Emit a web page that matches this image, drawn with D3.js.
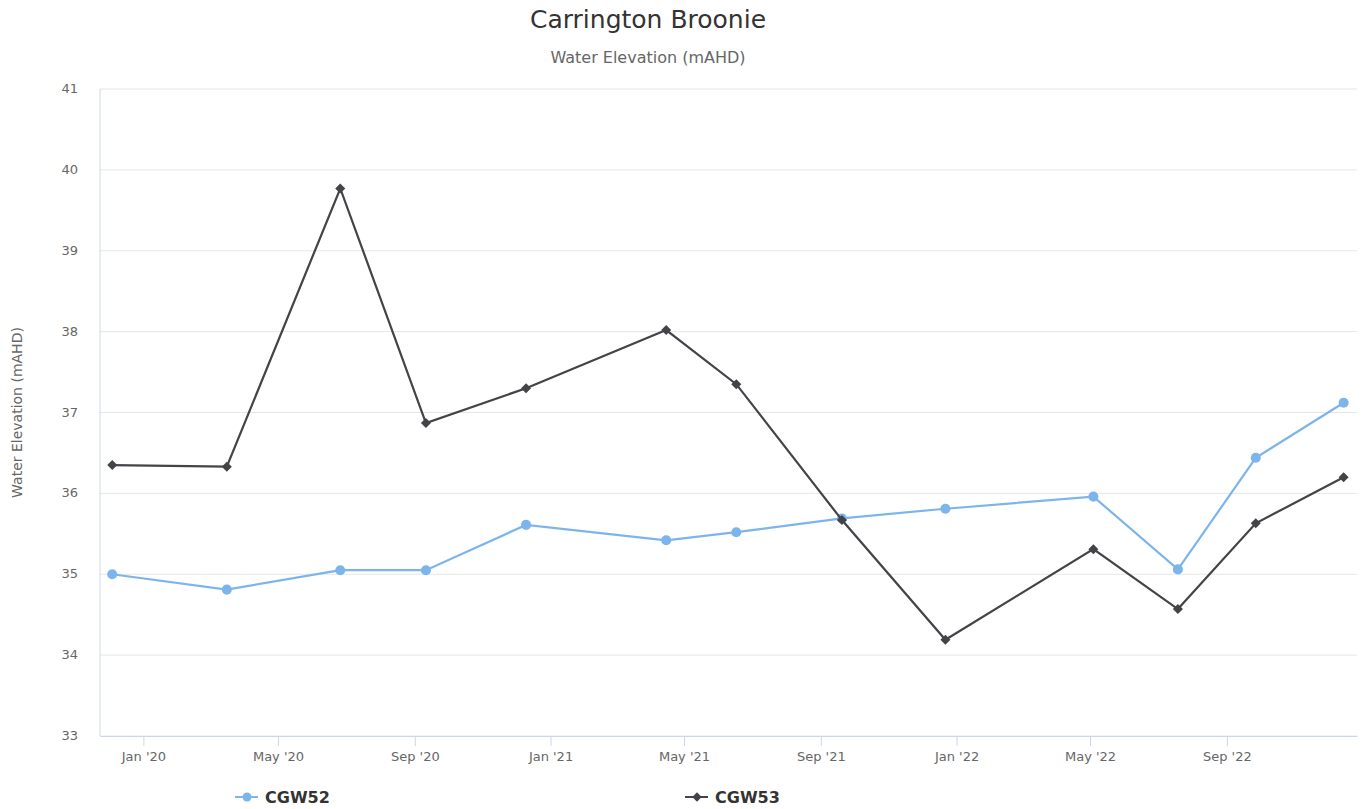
<!DOCTYPE html>
<meta charset="utf-8">
<head>
    <title>Carrington Broonie</title>
    <style>
        body { margin: 0; background: #fff; }
        text { font-family: "DejaVu Sans", Verdana, sans-serif; }
    </style>
</head>
<body>
<svg width="1366" height="809"></svg>
<script src="https://d3js.org/d3.v7.min.js"></script>
<script>

    // sample dates (shared by both bores)
    var dates = ["2019-12-04", "2020-03-16", "2020-06-26", "2020-09-11", "2020-12-10",
        "2021-04-15", "2021-06-17", "2021-09-20", "2021-12-22", "2022-05-04",
        "2022-07-19", "2022-09-27", "2022-12-15"];

    // water elevation readings, mAHD
    var cgw52 = [35.00, 34.81, 35.05, 35.05, 35.61, 35.42, 35.52, 35.69, 35.81, 35.96, 35.06, 36.44, 37.12];
    var cgw53 = [36.35, 36.33, 39.77, 36.87, 37.30, 38.02, 37.35, 35.67, 34.19, 35.31, 34.57, 35.63, 36.20];

    var seriesNames = ["CGW52", "CGW53"];
    var yTicks = [33, 34, 35, 36, 37, 38, 39, 40, 41];

    var svg = d3.select("svg");
    var parse = d3.timeParse("%Y-%m-%d");

    //plot area
    var plotLeft = 100, plotRight = 1357, plotTop = 89, plotBottom = 736;

    var x = d3.scaleTime()
            .domain([parse("2019-11-23"), parse("2022-12-27")])
            .range([plotLeft, plotRight]);
    var y = d3.scaleLinear()
            .domain([33, 41])
            .range([plotBottom, plotTop]);

    //title + subtitle
    svg.append("text")
            .attr("x", 648).attr("y", 28)
            .attr("text-anchor", "middle")
            .attr("fill", "#333")
            .style("font-size", "25px")
            .text("Carrington Broonie");
    svg.append("text")
            .attr("x", 648).attr("y", 63)
            .attr("text-anchor", "middle")
            .attr("fill", "#666")
            .style("font-size", "16px")
            .text("Water Elevation (mAHD)");

    //grid lines
    svg.append("g")
            .selectAll("line")
            .data(yTicks)
            .enter().append("line")
            .attr("x1", plotLeft).attr("x2", plotRight)
            .attr("y1", function(d) { return y(d); })
            .attr("y2", function(d) { return y(d); })
            .attr("stroke", "#e6e6e6");

    //y axis labels
    svg.append("g")
            .selectAll("text")
            .data(yTicks)
            .enter().append("text")
            .attr("x", 78)
            .attr("y", function(d) { return y(d) + 4; })
            .attr("text-anchor", "end")
            .attr("fill", "#666")
            .style("font-size", "13px")
            .text(function(d) { return d; });

    svg.append("text")
            .attr("transform", "translate(22," + ((plotTop + plotBottom) / 2) + ") rotate(-90)")
            .attr("text-anchor", "middle")
            .attr("fill", "#666")
            .style("font-size", "14px")
            .text("Water Elevation (mAHD)");

    //left line
    svg.append("line")
            .attr("x1", plotLeft).attr("x2", plotLeft)
            .attr("y1", plotTop).attr("y2", plotBottom)
            .attr("stroke", "#ccd6eb");

    //x axis
    var xAxis = d3.axisBottom(x)
            .ticks(d3.timeMonth.every(4))
            .tickFormat(d3.timeFormat("%b '%y"))
            .tickSizeInner(10)
            .tickSizeOuter(0)
            .tickPadding(6);
    var gx = svg.append("g")
            .attr("transform", "translate(0," + plotBottom + ")")
            .call(xAxis);
    gx.select(".domain").attr("stroke", "#ccd6eb");
    gx.selectAll(".tick line").attr("stroke", "#ccd6eb");
    gx.selectAll(".tick text")
            .attr("fill", "#666")
            .style("font-size", "13px")
            .style("font-family", "'DejaVu Sans', sans-serif");

    var colors = ["#7cb5ec", "#434348"];
    var allSeries = [cgw52, cgw53];

    var line = d3.line()
            .x(function(d, i) { return x(parse(dates[i])); })
            .y(function(d) { return y(d); });

    allSeries.forEach(function(vals, s) {
        svg.append("path")
                .datum(vals)
                .attr("d", line)
                .attr("fill", "none")
                .attr("stroke", colors[s])
                .attr("stroke-width", 2.2);

        var sym = d3.symbol().type(s === 0 ? d3.symbolCircle : d3.symbolDiamond2).size(s === 0 ? 80 : 64);
        svg.append("g")
                .selectAll("path")
                .data(vals)
                .enter().append("path")
                .attr("transform", function(d, i) { return "translate(" + x(parse(dates[i])) + "," + y(d) + ")"; })
                .attr("d", sym)
                .attr("fill", colors[s]);
    });

    //legend
    var legendX = [235, 685];
    var legend = svg.append("g")
            .selectAll("g")
            .data(seriesNames)
            .enter().append("g")
            .attr("transform", function(d, i) { return "translate(" + legendX[i] + ",797)"; });
    legend.append("line")
            .attr("x1", 0).attr("x2", 23)
            .attr("stroke", function(d, i) { return colors[i]; })
            .attr("stroke-width", 2);
    legend.append("path")
            .attr("transform", "translate(12,0)")
            .attr("d", function(d, i) { return d3.symbol().type(i === 0 ? d3.symbolCircle : d3.symbolDiamond2).size(i === 0 ? 64 : 56)(); })
            .attr("fill", function(d, i) { return colors[i]; });
    legend.append("text")
            .attr("x", 30).attr("y", 6)
            .attr("fill", "#333")
            .style("font-size", "16px")
            .style("font-weight", "bold")
            .text(function(d) { return d; });

</script>
</body>
